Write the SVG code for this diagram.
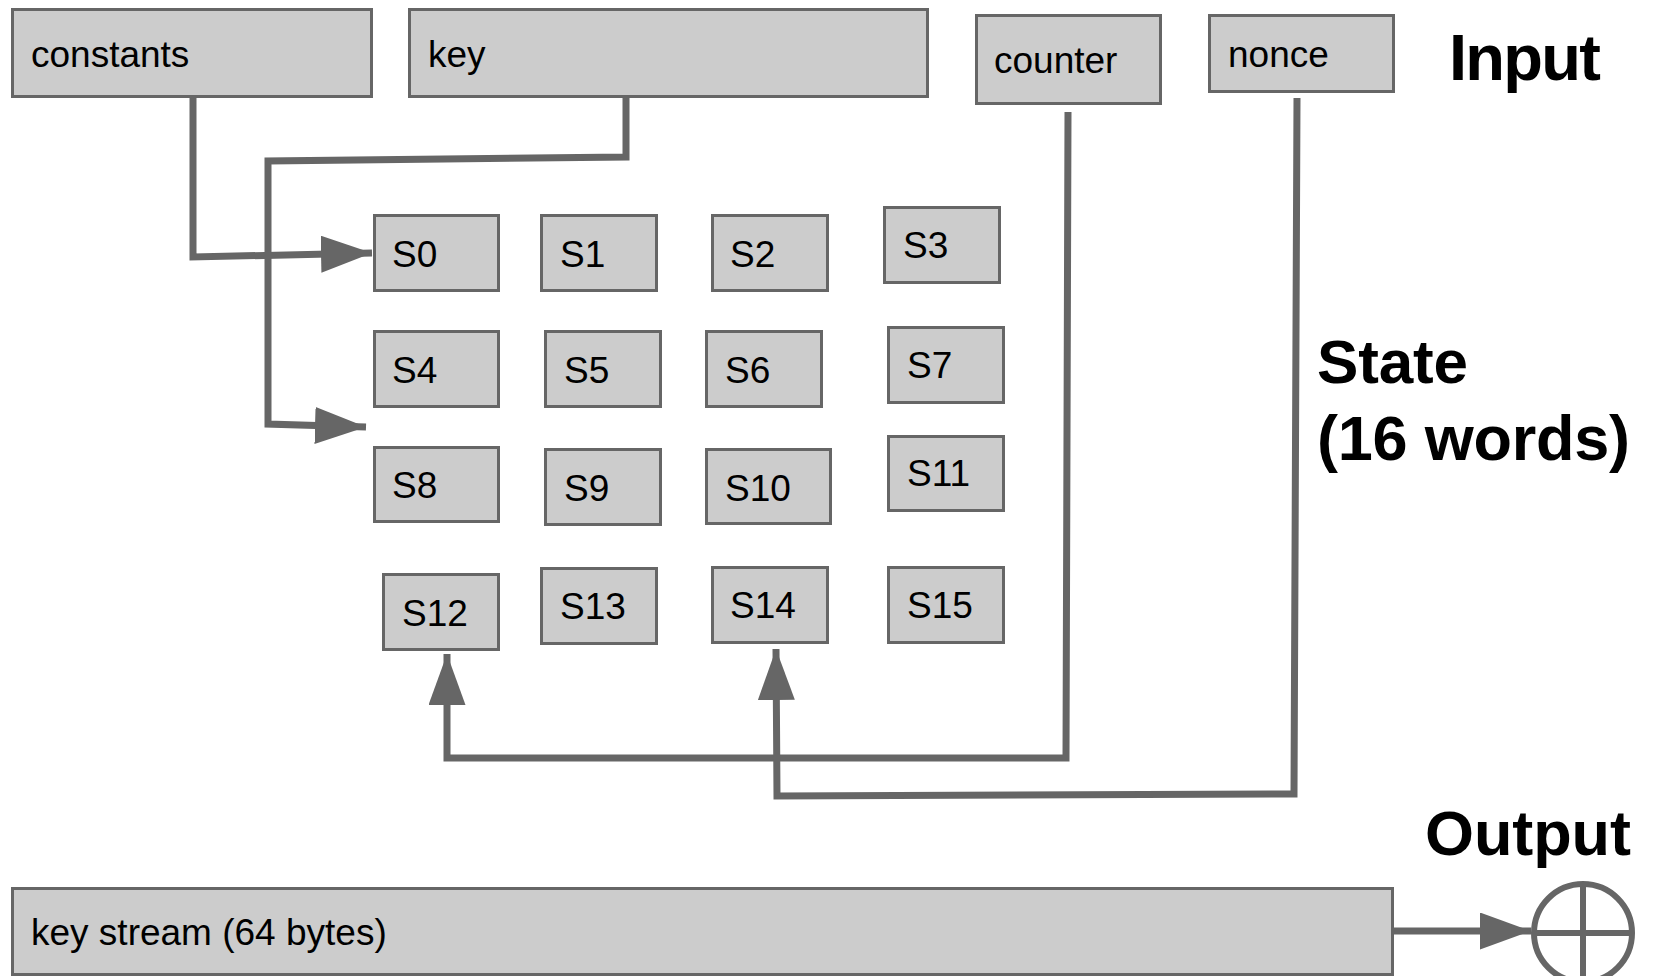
<svg xmlns="http://www.w3.org/2000/svg" width="1653" height="976" viewBox="0 0 1653 976">
<style>
.box{fill:#cccccc;stroke:#666666;stroke-width:3}
.lbl{font-family:"Liberation Sans",Arial,sans-serif;font-size:37px;fill:#000}
.ttl{font-family:"Liberation Sans",Arial,sans-serif;font-weight:bold;fill:#000}
.con{fill:none;stroke:#666666;stroke-width:7;stroke-linejoin:miter}
</style>
<defs>
<marker id="ah" markerUnits="userSpaceOnUse" markerWidth="52" markerHeight="38" refX="51" refY="18.5" orient="auto">
<path d="M0,0 L51,18.5 L0,37 Z" fill="#666666"/>
</marker>
</defs>
<rect width="1653" height="976" fill="#ffffff"/>
<g id="connectors">
<path class="con" d="M193,98 L193,257 L372,253" marker-end="url(#ah)"/>
<path class="con" d="M626,98 L626,157 L268,161 L268,424 L366,427" marker-end="url(#ah)"/>
<path class="con" d="M1068,112 L1066,758 L447,758 L447,654" marker-end="url(#ah)"/>
<path class="con" d="M1297,98 L1294,794 L777,796 L776,649" marker-end="url(#ah)"/>
<path class="con" d="M1394,931 L1531,931" marker-end="url(#ah)"/>
</g>
<g id="constants"><rect class="box" x="12.5" y="9.5" width="359" height="87"/><text class="lbl" x="31" y="67">constants</text></g>
<g id="key"><rect class="box" x="409.5" y="9.5" width="518" height="87"/><text class="lbl" x="428" y="67">key</text></g>
<g id="counter"><rect class="box" x="976.5" y="15.5" width="184" height="88"/><text class="lbl" x="994" y="73">counter</text></g>
<g id="nonce"><rect class="box" x="1209.5" y="15.5" width="184" height="76"/><text class="lbl" x="1228" y="67">nonce</text></g>
<g id="S0"><rect class="box" x="374.5" y="215.5" width="124" height="75"/><text class="lbl" x="392" y="267">S0</text></g>
<g id="S1"><rect class="box" x="541.5" y="215.5" width="115" height="75"/><text class="lbl" x="560" y="267">S1</text></g>
<g id="S2"><rect class="box" x="712.5" y="215.5" width="115" height="75"/><text class="lbl" x="730" y="267">S2</text></g>
<g id="S3"><rect class="box" x="884.5" y="207.5" width="115" height="75"/><text class="lbl" x="903" y="258">S3</text></g>
<g id="S4"><rect class="box" x="374.5" y="331.5" width="124" height="75"/><text class="lbl" x="392" y="383">S4</text></g>
<g id="S5"><rect class="box" x="545.5" y="331.5" width="115" height="75"/><text class="lbl" x="564" y="383">S5</text></g>
<g id="S6"><rect class="box" x="706.5" y="331.5" width="115" height="75"/><text class="lbl" x="725" y="383">S6</text></g>
<g id="S7"><rect class="box" x="888.5" y="327.5" width="115" height="75"/><text class="lbl" x="907" y="378">S7</text></g>
<g id="S8"><rect class="box" x="374.5" y="447.5" width="124" height="74"/><text class="lbl" x="392" y="498">S8</text></g>
<g id="S9"><rect class="box" x="545.5" y="449.5" width="115" height="75"/><text class="lbl" x="564" y="501">S9</text></g>
<g id="S10"><rect class="box" x="706.5" y="449.5" width="124" height="74"/><text class="lbl" x="725" y="501">S10</text></g>
<g id="S11"><rect class="box" x="888.5" y="436.5" width="115" height="74"/><text class="lbl" x="907" y="486">S11</text></g>
<g id="S12"><rect class="box" x="383.5" y="574.5" width="115" height="75"/><text class="lbl" x="402" y="626">S12</text></g>
<g id="S13"><rect class="box" x="541.5" y="568.5" width="115" height="75"/><text class="lbl" x="560" y="619">S13</text></g>
<g id="S14"><rect class="box" x="712.5" y="567.5" width="115" height="75"/><text class="lbl" x="730" y="618">S14</text></g>
<g id="S15"><rect class="box" x="888.5" y="567.5" width="115" height="75"/><text class="lbl" x="907" y="618">S15</text></g>
<g id="keystream"><rect class="box" x="12.5" y="888.5" width="1380" height="86"/><text class="lbl" x="31" y="945">key stream (64 bytes)</text></g>
<g id="xor">
<circle cx="1583" cy="933" r="49" fill="none" stroke="#666666" stroke-width="6"/>
<line x1="1583" y1="884" x2="1583" y2="982" stroke="#666666" stroke-width="6"/>
<line x1="1534" y1="933" x2="1632" y2="933" stroke="#666666" stroke-width="6"/>
</g>
<g id="titles">
<text class="ttl" x="1449" y="80" font-size="65" textLength="152">Input</text>
<text class="ttl" x="1317" y="383" font-size="62" textLength="151">State</text>
<text class="ttl" x="1317" y="460" font-size="63" textLength="313">(16 words)</text>
<text class="ttl" x="1425" y="855" font-size="63" textLength="206">Output</text>
</g>
</svg>
